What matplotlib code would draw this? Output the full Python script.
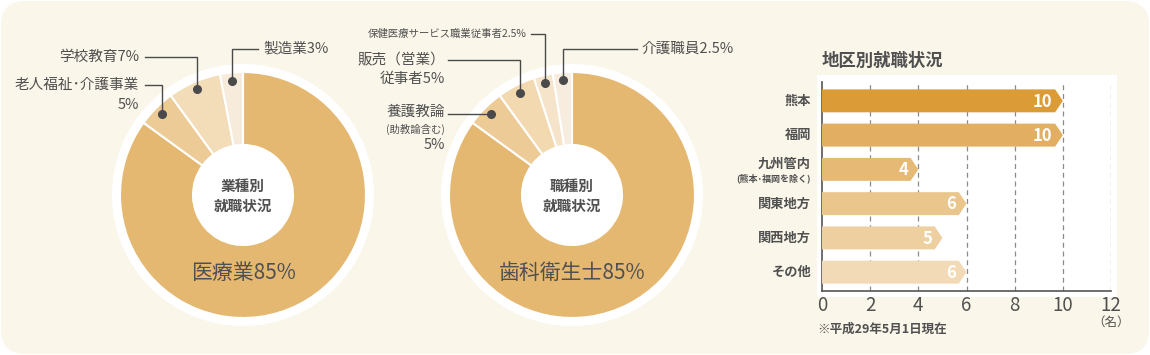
import numpy as np
import matplotlib
matplotlib.use("Agg")
import matplotlib.pyplot as plt
from matplotlib.patches import FancyBboxPatch, Rectangle, Circle, Polygon

plt.rcParams['font.family'] = ['Noto Sans CJK JP', 'DejaVu Sans']

# donut 1: industry
ind_labels = ["医療業", "老人福祉･介護事業", "学校教育", "製造業"]
ind_values = [85, 5, 7, 3]
ind_colors = ["#e5b872", "#edcb96", "#f3dcb8", "#f7ebdc"]

# donut 2: occupation
occ_labels = ["歯科衛生士", "養護教論", "販売（営業）従事者", "保健医療サービス職業従事者", "介護職員"]
occ_values = [85, 5, 5, 2.5, 2.5]
occ_colors = ["#e5b872", "#edcb96", "#f2d9b0", "#f5e4c9", "#f7ecde"]

# bars: by region
regions = ["熊本", "福岡", "九州管内", "関東地方", "関西地方", "その他"]
region_counts = [10, 10, 4, 6, 5, 6]
region_colors = ["#db9c38", "#e2af62", "#e6ba74", "#eac68c", "#eecfa0", "#f1dab5"]
x_ticks = [0, 2, 4, 6, 8, 10, 12]

W, H = 1150, 355
TXT = "#505050"

fig = plt.figure(figsize=(W / 100, H / 100), dpi=100)
fig.patch.set_facecolor("white")


def px_rect(x0, y0, x1, y1):
    # image pixel box -> figure fraction rect
    return [x0 / W, (H - y1) / H, (x1 - x0) / W, (y1 - y0) / H]


# background layer
bg = fig.add_axes([0, 0, 1, 1], zorder=0)
bg.set_xlim(0, W)
bg.set_ylim(H, 0)
bg.axis("off")
bg.add_patch(FancyBboxPatch((1, 1), W - 2, H - 2, boxstyle="round,pad=0,rounding_size=24",
                            fc="#faf6ea", ec="none"))
bg.add_patch(Rectangle((817, 75), 300, 222, fc="white", ec="none"))

# overlay for labels/leaders
ov = fig.add_axes([0, 0, 1, 1], zorder=5)
ov.set_xlim(0, W)
ov.set_ylim(H, 0)
ov.axis("off")
ov.patch.set_alpha(0)


def donut(cx, cy, values, colors, center_text, big_text):
    R = 123
    ax = fig.add_axes(px_rect(cx - 135, cy - 135, cx + 135, cy + 135), zorder=2)
    ax.set_xlim(-135, 135)
    ax.set_ylim(-135, 135)
    ax.axis("off")
    ax.patch.set_alpha(0)
    ax.add_patch(Circle((0, 0), 131, fc="white", ec="none", zorder=0))
    ax.pie(values, colors=colors, radius=R, startangle=90, counterclock=False,
           wedgeprops=dict(width=73, edgecolor="white", linewidth=1.5))
    ax.set_xlim(-135, 135)
    ax.set_ylim(-135, 135)
    ax.set_aspect("equal")
    ov.text(cx, cy + 1, center_text, ha="center", va="center", fontsize=10.5,
            fontweight="bold", color=TXT, linespacing=1.35)
    ov.text(cx, cy + 78, big_text, ha="center", va="center", fontsize=15, color=TXT)
    # dot positions at mid angle of each slice (going clockwise from top)
    total = sum(values)
    cum = np.cumsum([0] + list(values))
    dots = []
    for i in range(len(values)):
        mid = (cum[i] + cum[i + 1]) / 2 / total * 360
        ang = np.deg2rad(90 - mid)
        dots.append((cx + 115 * np.cos(ang), cy - 115 * np.sin(ang)))
    return dots


def leader(dot, pts):
    xs = [dot[0]] + [p[0] for p in pts]
    ys = [dot[1]] + [p[1] for p in pts]
    ov.plot(xs, ys, color="#4a4a4a", lw=1.0, solid_joinstyle="miter")
    ov.plot(dot[0], dot[1], "o", color="#4a4a4a", ms=5.5)


LBL = 10.5

d1 = donut(243, 195, ind_values, ind_colors, "業種別\n就職状況",
           f"{ind_labels[0]}{ind_values[0]}%")
# 老人福祉
leader(d1[1], [(d1[1][0], 85), (145, 85)])
ov.text(139, 85, ind_labels[1], ha="right", va="center", fontsize=LBL, color=TXT)
ov.text(139, 105, f"{ind_values[1]}%", ha="right", va="center", fontsize=LBL, color=TXT)
# 学校教育
leader(d1[2], [(d1[2][0], 57), (145, 57)])
ov.text(139, 57, f"{ind_labels[2]}{ind_values[2]}%", ha="right", va="center", fontsize=LBL, color=TXT)
# 製造業
leader(d1[3], [(d1[3][0], 49), (258, 49)])
ov.text(263, 49, f"{ind_labels[3]}{ind_values[3]}%", ha="left", va="center", fontsize=LBL, color=TXT)

d2 = donut(572, 195, occ_values, occ_colors, "職種別\n就職状況",
           f"{occ_labels[0]}{occ_values[0]}%")
# 養護教論
leader(d2[1], [(448, d2[1][1])])
ov.text(445, 112, occ_labels[1], ha="right", va="center", fontsize=LBL, color=TXT)
ov.text(445, 129, "(助教論含む)", ha="right", va="center", fontsize=7.5, color=TXT)
ov.text(445, 145, f"{occ_values[1]}%", ha="right", va="center", fontsize=LBL, color=TXT)
# 販売
leader(d2[2], [(d2[2][0], 60), (448, 60)])
ov.text(445, 60, "販売（営業）", ha="right", va="center", fontsize=LBL, color=TXT)
ov.text(445, 79, f"従事者{occ_values[2]:g}%", ha="right", va="center", fontsize=LBL, color=TXT)
# 保健医療
leader(d2[3], [(d2[3][0], 34), (531, 34)])
ov.text(527, 34, f"{occ_labels[3]}{occ_values[3]}%", ha="right", va="center",
        fontsize=7.5, color=TXT)
# 介護職員
leader(d2[4], [(d2[4][0], 49), (637, 49)])
ov.text(641, 49, f"{occ_labels[4]}{occ_values[4]}%", ha="left", va="center", fontsize=LBL, color=TXT)

# bar chart
ax = fig.add_axes(px_rect(822, 82, 1111, 291), zorder=3)
ax.patch.set_alpha(0)
ax.set_xlim(0, 12)
ax.set_ylim(5.55, -0.55)
tip = 0.32
half = 0.335
for i, (v, c) in enumerate(zip(region_counts, region_colors)):
    ax.add_patch(Polygon([(0, i - half), (v - tip, i - half), (v, i), (v - tip, i + half), (0, i + half)],
                         closed=True, fc=c, ec="none", zorder=3))
    ax.text(v - 0.42, i + 0.02, str(v), ha="right", va="center", fontsize=12,
            fontweight="bold", color="white", zorder=4)

for xv in x_ticks[1:]:
    ax.axvline(xv, color="#8a8a8a", lw=0.9, ls=(0, (4, 3)), zorder=1)
for s in ["top", "right"]:
    ax.spines[s].set_visible(False)
for s in ["left", "bottom"]:
    ax.spines[s].set_color("#555555")
    ax.spines[s].set_linewidth(1.2)
ax.set_xticks(x_ticks)
ax.set_xticklabels([str(t) for t in x_ticks], fontsize=13.5, color=TXT)
ax.set_yticks([])
ax.tick_params(axis="x", length=0, pad=3)

for i, name in enumerate(regions):
    if name == "九州管内":
        ax.text(-0.45, i - 0.17, name, ha="right", va="center", fontsize=9.5,
                fontweight="bold", color=TXT)
        ax.text(-0.45, i + 0.27, "(熊本･福岡を除く)", ha="right", va="center", fontsize=6.5,
                fontweight="bold", color=TXT)
    else:
        ax.text(-0.45, i, name, ha="right", va="center", fontsize=9.5,
                fontweight="bold", color=TXT)

ov.text(822, 61, "地区別就職状況", ha="left", va="center", fontsize=12.5,
        fontweight="bold", color=TXT)
ov.text(1111, 322, "（名）", ha="center", va="center", fontsize=9, color=TXT)
ov.text(817, 329, "※平成29年5月1日現在", ha="left", va="center", fontsize=9,
        fontweight="bold", color=TXT)

fig.savefig("out.png", dpi=100)
